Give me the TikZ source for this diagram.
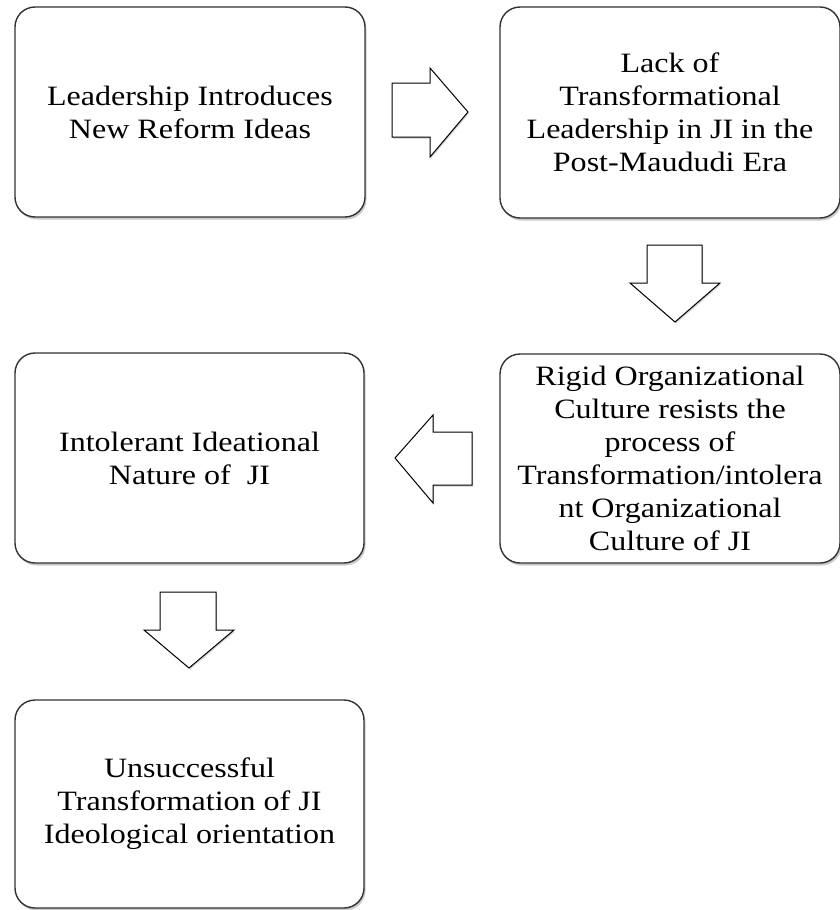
\documentclass[tikz,border=0pt]{standalone}
\usepackage{fontspec}
\setmainfont{Liberation Serif}[FakeStretch=1.145]
\usetikzlibrary{shadows}
\begin{document}
\begin{tikzpicture}[x=1pt,y=-1pt,
  box/.style={draw=black!80, line width=1.4pt, rounded corners=20pt, fill=white,
    drop shadow={shadow xshift=1.5pt, shadow yshift=-2.5pt, opacity=0.35, fill=black!60},
    align=center, inner sep=0pt, font=\fontsize{28pt}{33pt}\selectfont},
  blockarrow/.style={draw=black, line width=1pt, fill=white, line join=miter,
    drop shadow={shadow xshift=1pt, shadow yshift=-1.5pt, opacity=0.3, fill=black!60}}]
\useasboundingbox (0,0) rectangle (839,910);
\node[box, minimum width=350pt, minimum height=210pt] (b1) at (190,112)
  {Leadership Introduces\\New Reform Ideas};
\node[box, minimum width=340pt, minimum height=211pt] (b2) at (670,112.5)
  {Lack of\\Transformational\\Leadership in JI in the\\Post-Maududi Era};
\node[box, minimum width=340pt, minimum height=209pt] (b3) at (670,458.5)
  {Rigid Organizational\\Culture resists the\\process of\\Transformation/intolera\\nt Organizational\\Culture of JI};
\node[box, minimum width=349pt, minimum height=210pt] (b4) at (189.5,458)
  {Intolerant Ideational\\Nature of~ JI};
\node[box, minimum width=349pt, minimum height=208pt] (b5) at (189.5,804)
  {Unsuccessful\\Transformation of JI\\Ideological orientation};
% block arrows
\path[blockarrow] (392,83) -- (430,83) -- (430,68) -- (468,112) -- (430,157) -- (430,137) -- (392,137) -- cycle;
\path[blockarrow] (647,245) -- (702,245) -- (702,283) -- (720,283) -- (675,322) -- (630,283) -- (647,283) -- cycle;
\path[blockarrow] (472,432) -- (433,432) -- (433,415) -- (395,458) -- (433,503) -- (433,485) -- (472,485) -- cycle;
\path[blockarrow] (160,592) -- (216,592) -- (216,630) -- (234,630) -- (189,668) -- (144,630) -- (160,630) -- cycle;
\end{tikzpicture}
\end{document}
